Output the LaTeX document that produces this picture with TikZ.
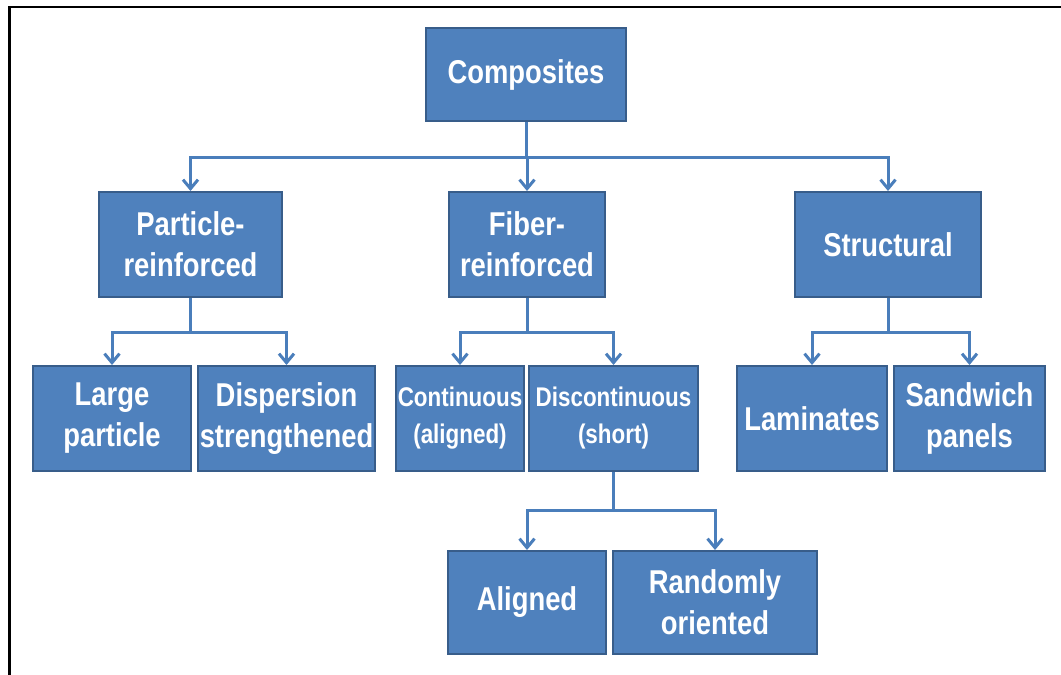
\documentclass[tikz,border=0pt]{standalone}
\usepackage{fontspec}
\setmainfont{Liberation Sans}[FakeStretch=0.83]
\usetikzlibrary{arrows.meta}
\definecolor{boxblue}{HTML}{4F81BD}
\definecolor{boxedge}{HTML}{385D8A}
\definecolor{linkblue}{HTML}{4A7EBB}
\tikzset{
  blk/.style={draw=boxedge, line width=2pt, fill=boxblue, text=white, align=center,
    inner sep=0pt, minimum height=105pt, font=\fontsize{33}{41}\selectfont\bfseries},
  small/.style={font=\fontsize{27}{37}\selectfont\bfseries},
  lnk/.style={draw=linkblue, line width=3pt},
  arr/.style={lnk, -{Straight Barb[length=9pt,width=15pt]}}
}

\begin{document}
\begin{tikzpicture}[x=1pt,y=-1pt]
\useasboundingbox (0,0) rectangle (1061,675);
\draw[line width=2.5pt] (9.5,675) -- (9.5,7) -- (1061,7);

\node[blk, minimum width=200pt, minimum height=93pt] (comp) at (526,74.5) {Composites};

\node[blk, minimum width=183pt] (part) at (190.5,244.5) {Particle-\\reinforced};
\node[blk, minimum width=156pt] (fib) at (527,244.5) {Fiber-\\reinforced};
\node[blk, minimum width=186pt] (str) at (888,244.5) {Structural};

\node[blk, minimum width=158pt] (large) at (112,418.5) {Large\\particle};
\node[blk, minimum width=177pt] (disp) at (286.5,418.5) {Dispersion\\strengthened};
\node[blk, small, minimum width=128pt] (cont) at (460,418.5) {Continuous\\(aligned)};
\node[blk, small, minimum width=169pt] (disc) at (613.5,418.5) {Discontinuous\\(short)};
\node[blk, minimum width=150pt] (lam) at (812,418.5) {Laminates};
\node[blk, minimum width=151pt] (sand) at (969.5,418.5) {Sandwich\\panels};

\node[blk, minimum width=158pt, minimum height=103pt] (ali) at (527,602.5) {Aligned};
\node[blk, minimum width=204pt, minimum height=103pt] (rand) at (715,602.5) {Randomly\\oriented};

\coordinate (b1) at (526,157);
\coordinate (b2) at (190.5,332);
\coordinate (b3) at (527,332);
\coordinate (b4) at (888,332);
\coordinate (b5) at (613.5,510);

\draw[lnk] (comp) -- (b1);
\draw[arr] (b1) -| (part);
\draw[arr] (b1) -| (fib);
\draw[arr] (b1) -| (str);

\draw[lnk] (part) -- (b2);
\draw[arr] (b2) -| (large);
\draw[arr] (b2) -| (disp);

\draw[lnk] (fib) -- (b3);
\draw[arr] (b3) -| (cont);
\draw[arr] (b3) -| (disc);

\draw[lnk] (str) -- (b4);
\draw[arr] (b4) -| (lam);
\draw[arr] (b4) -| (sand);

\draw[lnk] (disc) -- (b5);
\draw[arr] (b5) -| (ali);
\draw[arr] (b5) -| (rand);
\end{tikzpicture}
\end{document}
